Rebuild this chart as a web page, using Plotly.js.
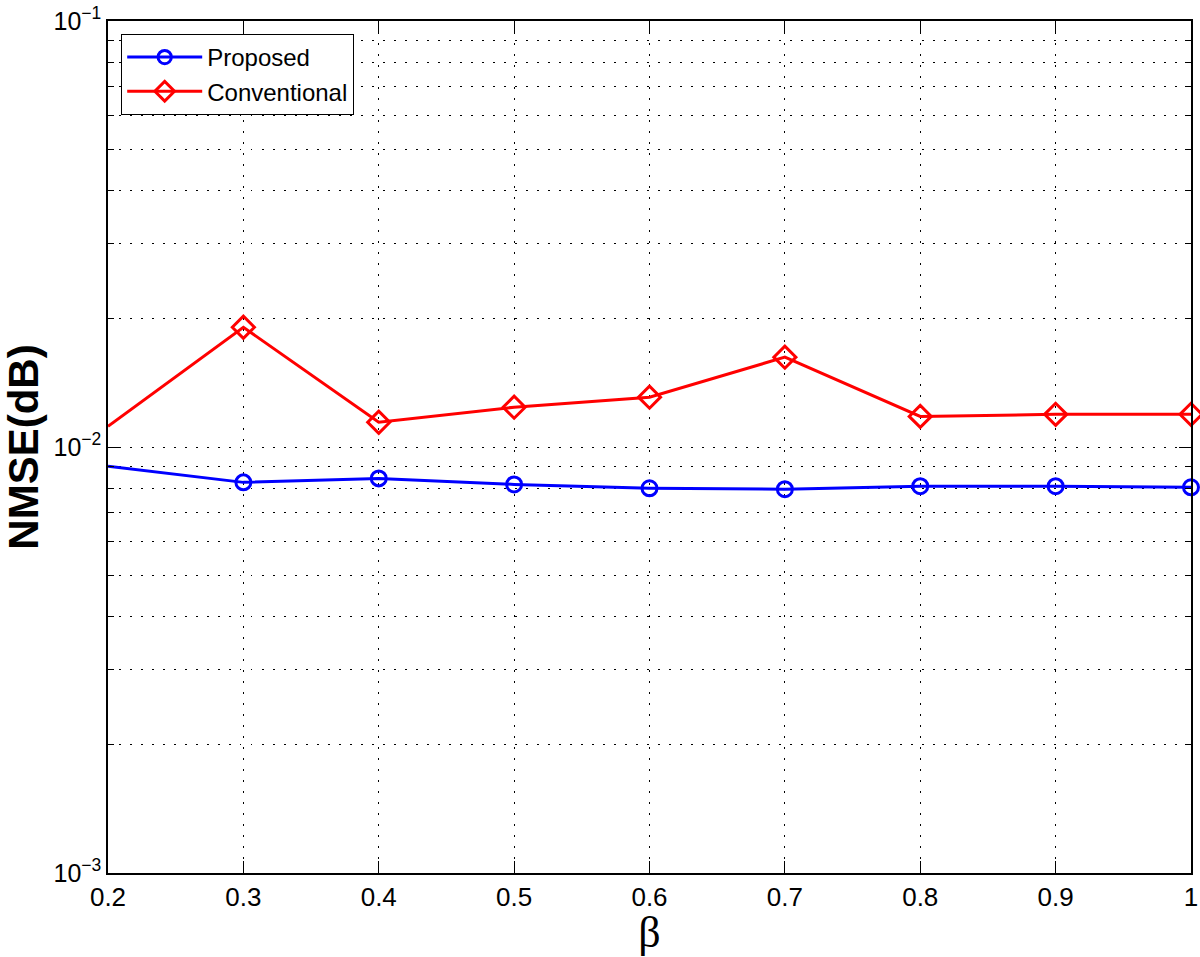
<!DOCTYPE html>
<html>
<head>
<meta charset="utf-8">
<script src="https://cdn.plot.ly/plotly-3.0.1.min.js"></script>
<style>
  body { margin: 0; background: #fff; }
  #chart { width: 1200px; height: 957px; }
</style>
</head>
<body>
<div id="chart"></div>
<script>
// beta values on the x axis
var beta = [0.2, 0.3, 0.4, 0.5, 0.6, 0.7, 0.8, 0.9, 1.0];
// NMSE
var proposed     = [0.00901, 0.00826, 0.00844, 0.00817, 0.00800, 0.00796, 0.00809, 0.00809, 0.00804];
var conventional = [0.01118, 0.0191, 0.01143, 0.01240, 0.01309, 0.01625, 0.0118, 0.01193, 0.01193];
var xTicks = [0.2, 0.3, 0.4, 0.5, 0.6, 0.7, 0.8, 0.9, 1];
var xTickText = ["0.2", "0.3", "0.4", "0.5", "0.6", "0.7", "0.8", "0.9", "1"];
var yTicks = [0.001, 0.01, 0.1];
var yTickText = ["10<sup>−3</sup>", "10<sup>−2</sup>", "10<sup>−1</sup>"];

// no marker on the left edge (line comes in from outside the axis there)
var sizes = function(s){ return beta.map(function(b, i){ return i == 0 ? 0 : s; }); };

var tracks = [
    {
        x: beta, y: proposed,
        type: "scatter", mode: "lines+markers",
        name: "Proposed", cliponaxis: false,
        line: {color: "#0000ff", width: 3},
        marker: {symbol: "circle-open", size: sizes(15), opacity: 1, color: "#0000ff", line: {width: 3}}
    },
    {
        x: beta, y: conventional,
        type: "scatter", mode: "lines+markers",
        name: "Conventional", cliponaxis: false,
        line: {color: "#ff0000", width: 3},
        marker: {symbol: "diamond-open", size: sizes(17), opacity: 1, color: "#ff0000", line: {width: 3}}
    }
];

var gridDash = "1.5px,9.5px";

var layout = {
    width: 1200, height: 957,
    paper_bgcolor: "white", plot_bgcolor: "white",
    font: {family: "Liberation Sans, Arial, sans-serif", size: 26, color: "black"},
    margin: {l: 108, r: 9, t: 21, b: 84},
    showlegend: true,
    legend: {
        x: 0.012, y: 0.985, xanchor: "left", yanchor: "top",
        bgcolor: "white", bordercolor: "black", borderwidth: 1.2,
        font: {size: 24}, itemwidth: 75, tracegroupgap: 0
    },
    xaxis: {
        range: [0.2, 1],
        tickmode: "array", tickvals: xTicks, ticktext: xTickText,
        ticks: "inside", ticklen: 12, tickwidth: 1.2, tickcolor: "black",
        showline: true, linecolor: "black", linewidth: 1.5, mirror: "ticks",
        showgrid: true, gridcolor: "black", gridwidth: 1, griddash: gridDash,
        zeroline: false, ticklabeloverflow: "allow",
        tickfont: {size: 26},
        title: {text: "β", font: {family: "Liberation Serif, Times New Roman, serif", size: 44}, standoff: 4}
    },
    yaxis: {
        type: "log", range: [-3, -1],
        tickmode: "array", tickvals: yTicks, ticktext: yTickText,
        ticks: "inside", ticklen: 12, tickwidth: 1.2, tickcolor: "black",
        showline: true, linecolor: "black", linewidth: 1.5, mirror: "ticks",
        showgrid: true, gridcolor: "black", gridwidth: 1, griddash: gridDash,
        zeroline: false, ticklabeloverflow: "allow",
        tickfont: {size: 25},
        minor: {
            dtick: "D1", ticks: "inside", ticklen: 6, tickcolor: "black",
            showgrid: true, gridcolor: "black", gridwidth: 1, griddash: gridDash
        },
        title: {text: "<b>NMSE(dB)</b>", font: {size: 42}, standoff: 10}
    }
};

Plotly.newPlot("chart", tracks, layout, {displayModeBar: false});
</script>
</body>
</html>
